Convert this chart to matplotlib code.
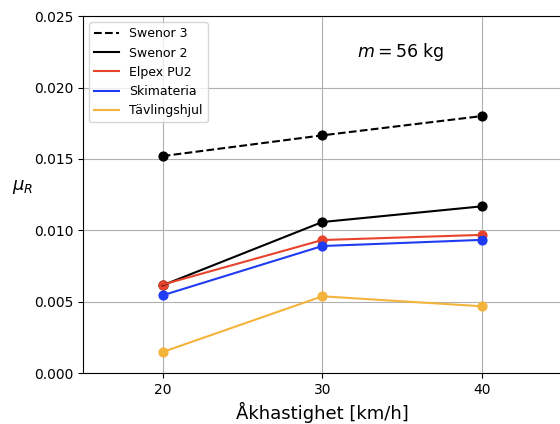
import matplotlib
matplotlib.use("Agg")
import matplotlib.pyplot as plt

speed = [20, 30, 40]
swenor3 = [0.0152, 0.01665, 0.0180]
swenor2 = [0.00615, 0.01058, 0.01168]
elpex = [0.0062, 0.00932, 0.00968]
skimateria = [0.00545, 0.0089, 0.00933]
tavling = [0.00148, 0.00538, 0.00468]

fig = plt.figure(figsize=(5.6, 4.24), dpi=100)
ax = fig.add_axes([0.148, 0.120, 0.855, 0.842])

series = [
    (swenor3, "k", "--", "Swenor 3"),
    (swenor2, "k", "-", "Swenor 2"),
    (elpex, "#e8432d", "-", "Elpex PU2"),
    (skimateria, "#1f3cf2", "-", "Skimateria"),
    (tavling, "#f4b43c", "-", "Tävlingshjul"),
]
for vals, col, ls, lab in series:
    ax.plot(speed, vals, ls=ls, color=col, lw=1.5, label=lab, zorder=3)
    ax.scatter(speed, vals, color=col, s=40, zorder=2.5)

ax.set_xlim(15, 45)
ax.set_ylim(0, 0.025)
ax.set_xticks([20, 30, 40])
ax.grid(True, color="#b0b0b0", lw=0.8)
ax.set_axisbelow(True)
ax.set_xlabel("Åkhastighet [km/h]", fontsize=13)
ax.set_ylabel(r"$\mu_R$", fontsize=13, rotation=0)
ax.yaxis.set_label_coords(-0.125, 0.495)
ax.text(0.663, 0.9, r"$m = 56$ kg", transform=ax.transAxes, fontsize=12.5, ha="center", va="center")
leg = ax.legend(loc="upper left", fontsize=9)

fig.savefig("out.png", dpi=100)
